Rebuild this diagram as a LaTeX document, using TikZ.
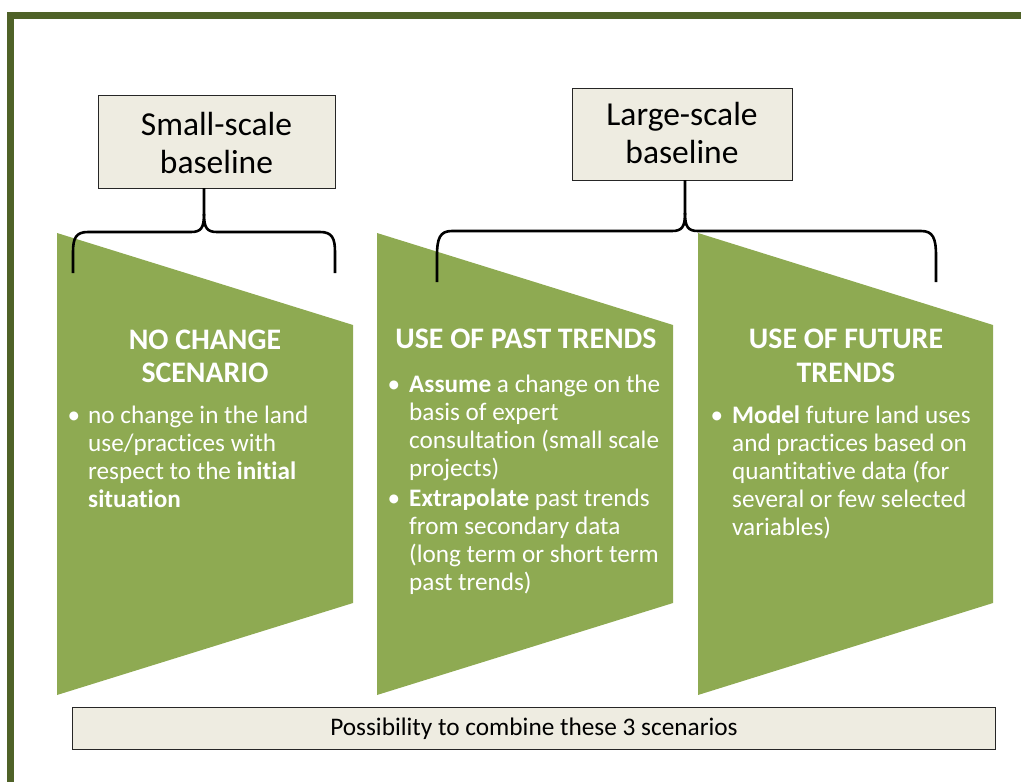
\documentclass[tikz,border=0pt]{standalone}
\usepackage{fontspec}
\setmainfont{Carlito}[RawFeature={-liga}]
\definecolor{frameol}{HTML}{4F6228}
\definecolor{leaf}{HTML}{8EAA52}
\definecolor{paper}{HTML}{EEECE1}
\newcommand{\fsz}[1]{\fontsize{#1}{#1}\selectfont}
\begin{document}
\begin{tikzpicture}[x=1pt,y=-1pt,
 box/.style={draw=black!85, line width=1.2pt, fill=paper, inner sep=0pt, anchor=north west},
 hdr/.style={anchor=base, inner sep=0pt, font=\fsz{33.5}},
 ttl/.style={anchor=base, inner sep=0pt, text=white, font=\fsz{29.8}\bfseries},
 txt/.style={anchor=base west, inner sep=0pt, text=white, font=\fsz{25.2}},
 dot/.style={anchor=base, inner sep=0pt, text=white, font=\fsz{25.2}},
 bottomtxt/.style={anchor=base, inner sep=0pt, font=\fsz{25.3}},
 brace/.style={draw=black, line width=2.6pt}]
\useasboundingbox (0,0) rectangle (1021,782);
% frame
\fill[frameol] (7,12) rectangle (1021,19);
\fill[frameol] (7,12) rectangle (14,782);
% green shapes
\fill[leaf] (57,233) -- (353,325) -- (353,603) -- (57,695) -- cycle;
\fill[leaf] (377,233) -- (673,325) -- (673,603) -- (377,695) -- cycle;
\fill[leaf] (698,233) -- (993,325) -- (993,603) -- (698,695) -- cycle;
% header boxes
\node[box, minimum width=237pt, minimum height=93pt] (small) at (98,95) {};
\node[hdr] (smallA) at (216.5,135) {Small-scale};
\node[hdr] (smallB) at (216.5,173) {baseline};
\node[box, minimum width=220pt, minimum height=92pt] (large) at (572,88) {};
\node[hdr] (largeA) at (682,125) {Large-scale};
\node[hdr] (largeB) at (682,163) {baseline};
% braces
\coordinate (sb) at (204,188);
\coordinate (sm) at (204,214);
\coordinate (sl) at (73,273);
\coordinate (sr) at (335,273);
\draw[brace] (sb) -- (sm) .. controls (204,228) and (201,232) .. (191,232) -- (88,232) .. controls (76,232) and (73,238) .. (73,252) -- (sl);
\draw[brace] (sm) .. controls (204,228) and (207,232) .. (217,232) -- (320,232) .. controls (332,232) and (335,238) .. (335,252) -- (sr);
\coordinate (lb) at (685,180);
\coordinate (lm) at (685,213);
\coordinate (ll) at (437,282);
\coordinate (lr) at (936,282);
\draw[brace] (lb) -- (lm) .. controls (685,227) and (682,231) .. (672,231) -- (452,231) .. controls (440,231) and (437,238) .. (437,256) -- (ll);
\draw[brace] (lm) .. controls (685,227) and (688,231) .. (698,231) -- (921,231) .. controls (933,231) and (936,238) .. (936,256) -- (lr);
% shape 1 text
\node[ttl] (t1a) at (205,349) {NO CHANGE};
\node[ttl] (t1b) at (205,382) {SCENARIO};
\node[dot] (d1) at (74,423) {•};
\node[txt] (a1) at (88,423) {no change in the land};
\node[txt] (a2) at (88,451) {use/practices with};
\node[txt] (a3) at (88,479) {respect to the \textbf{initial}};
\node[txt] (a4) at (88,507) {\textbf{situation}};
% shape 2 text
\node[ttl] (t2a) at (526,348) {USE OF PAST TRENDS};
\node[dot] (d2) at (394,392) {•};
\node[txt] (b1) at (409,392) {\textbf{Assume} a change on the};
\node[txt] (b2) at (409,420) {basis of expert};
\node[txt] (b3) at (409,448) {consultation (small scale};
\node[txt] (b4) at (409,476) {projects)};
\node[dot] (d3) at (394,506) {•};
\node[txt] (b5) at (409,506) {\textbf{Extrapolate} past trends};
\node[txt] (b6) at (409,534) {from secondary data};
\node[txt] (b7) at (409,562) {(long term or short term};
\node[txt] (b8) at (409,590) {past trends)};
% shape 3 text
\node[ttl] (t3a) at (846,348) {USE OF FUTURE};
\node[ttl] (t3b) at (846,382) {TRENDS};
\node[dot] (d4) at (717,423) {•};
\node[txt] (c1) at (732,423) {\textbf{Model} future land uses};
\node[txt] (c2) at (732,451) {and practices based on};
\node[txt] (c3) at (732,479) {quantitative data (for};
\node[txt] (c4) at (732,507) {several or few selected};
\node[txt] (c5) at (732,535) {variables)};
% bottom box
\node[box, minimum width=923pt, minimum height=42pt] (combo) at (72,707) {};
\node[bottomtxt] (comboT) at (534,735) {Possibility to combine these 3 scenarios};
\end{tikzpicture}
\end{document}
